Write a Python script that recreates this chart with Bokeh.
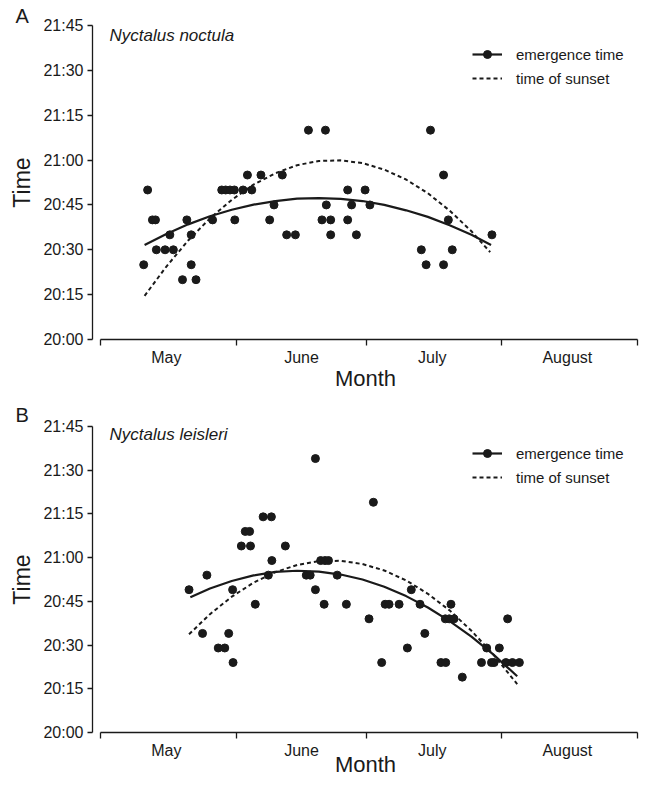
from bokeh.plotting import figure
from bokeh.models import FixedTicker, Label, Legend, LegendItem, Range1d
from bokeh.layouts import column
from bokeh.embed import file_html
from bokeh.resources import INLINE

# ---- axis definitions (days since 1 May, minutes after 20:00) ----
month_names = ["May", "June", "July", "August"]
month_label_days = [15, 46, 76, 107]
month_start_days = [0, 31, 61, 92, 123]
time_ticks = [0, 15, 30, 45, 60, 75, 90, 105]
time_labels = ["20:00", "20:15", "20:30", "20:45", "21:00", "21:15", "21:30", "21:45"]

# ---- Panel A: Nyctalus noctula ----
a_days = [9.8, 10.7, 11.8, 12.5, 12.7, 14.7, 16.6, 15.8, 18.7, 19.7, 20.7, 20.7, 21.8,
          25.6, 27.7, 28.6, 29.6, 30.6, 30.7, 32.6, 33.6, 34.6, 36.7, 38.7, 39.7, 41.6,
          42.6, 44.6, 47.6, 51.5, 75.6, 78.6, 56.6, 60.6, 51.7, 57.5, 61.7, 50.7, 52.7,
          56.6, 79.7, 52.7, 58.6, 89.7, 73.5, 80.6, 74.6, 78.6]
a_mins = [25, 50, 40, 40, 30, 30, 30, 35, 20, 40, 35, 25, 20,
          40, 50, 50, 50, 50, 40, 50, 55, 50, 55, 40, 45, 55,
          35, 35, 70, 70, 70, 55, 50, 50, 45, 45, 45, 40, 40,
          40, 40, 35, 35, 35, 30, 30, 25, 25]
a_emerg_days = [10, 15, 20, 25, 30, 35, 40, 45, 50, 55, 60, 65, 70, 75, 80, 85, 89.5]
a_emerg_fit = [31.6, 35.3, 38.5, 41.2, 43.4, 45.1, 46.3, 47.1, 47.3, 47.0, 46.3, 45.0,
               43.2, 41.0, 38.2, 35.0, 31.6]
a_sun_days = [10, 15, 20, 25, 30, 35, 40, 45, 50, 55, 60, 65, 70, 75, 80, 85, 89.3]
a_sun_fit = [14.6, 24.4, 33.1, 40.5, 46.7, 51.8, 55.6, 58.3, 59.7, 59.9, 59.0, 56.8,
             53.5, 48.9, 43.1, 36.2, 29.2]

# ---- Panel B: Nyctalus leisleri ----
b_days = [37.2, 39.1, 33.1, 34.1, 32.2, 34.3, 42.3, 39.2, 24.3, 38.4, 47.1, 48.0, 20.2,
          30.2, 49.2, 35.4, 23.3, 29.3, 26.9, 28.4, 30.3,
          49.2, 62.5, 50.4, 51.4, 52.2, 54.2, 71.2, 51.2, 56.3, 65.2, 66.1, 68.4, 73.2,
          80.3, 61.5, 79.0, 79.9, 81.0, 93.3, 74.3, 70.3, 88.5, 91.4, 64.4, 78.0, 79.1,
          87.3, 89.6, 90.2, 92.9, 94.4, 96.0, 82.9]
b_mins = [74, 74, 69, 69, 64, 64, 64, 59, 54, 54, 54, 54, 49,
          49, 49, 44, 34, 34, 29, 29, 24,
          94, 79, 59, 59, 59, 54, 49, 44, 44, 44, 44, 44, 44,
          44, 39, 39, 39, 39, 39, 34, 29, 29, 29, 24, 24, 24,
          24, 24, 24, 24, 24, 24, 19]
b_emerg_days = [20.5, 25, 30, 35, 40, 45, 50, 55, 60, 65, 70, 75, 80, 85, 90, 95.5]
b_emerg_fit = [46.4, 49.4, 52.0, 53.9, 55.1, 55.5, 55.2, 54.2, 52.5, 50.0, 46.8, 42.9,
               38.2, 32.9, 26.8, 19.3]
b_sun_days = [20.2, 25, 30, 35, 40, 45, 50, 55, 60, 65, 70, 75, 80, 85, 90, 95.5]
b_sun_fit = [33.7, 40.6, 46.6, 51.4, 55.0, 57.5, 58.8, 58.9, 57.8, 55.6, 52.2, 47.6,
             41.9, 34.9, 26.8, 16.6]

INK = "#1a1a1a"
FONT = "Liberation Sans"


def make_panel(letter, species, days, mins, e_days, e_fit, s_days, s_fit,
               height, top, frame_h, title_standoff, month_standoff,
               species_y, legend_vy):
    p = figure(width=641, height=height,
               x_range=Range1d(-1.95, 123.33), y_range=Range1d(0, 105),
               output_backend="svg", toolbar_location=None,
               min_border_left=92, min_border_right=3,
               min_border_top=top, min_border_bottom=height - top - frame_h)
    p.outline_line_color = None
    p.xgrid.visible = False
    p.ygrid.visible = False
    p.background_fill_color = "white"
    p.border_fill_color = "white"

    p.title.text = letter
    p.title.align = "left"
    p.title.offset = -77
    p.title.standoff = title_standoff
    p.title.text_font = FONT
    p.title.text_font_size = "20px"
    p.title.text_font_style = "normal"
    p.title.text_color = INK

    xa = p.xaxis[0]
    xa.ticker = FixedTicker(ticks=month_label_days, minor_ticks=month_start_days)
    xa.major_label_overrides = {d: m for d, m in zip(month_label_days, month_names)}
    xa.major_tick_line_color = None
    xa.major_tick_out = 0
    xa.major_tick_in = 0
    xa.minor_tick_out = 6
    xa.minor_tick_in = 0
    xa.minor_tick_line_color = INK
    xa.minor_tick_line_width = 1.3
    xa.bounds = (0, 123)
    xa.axis_line_color = INK
    xa.axis_line_width = 1.3
    xa.major_label_standoff = 3
    xa.major_label_text_font = FONT
    xa.major_label_text_font_size = "16px"
    xa.major_label_text_color = INK
    xa.axis_label = "Month"
    xa.axis_label_standoff = month_standoff
    xa.axis_label_text_font = FONT
    xa.axis_label_text_font_size = "22px"
    xa.axis_label_text_font_style = "normal"
    xa.axis_label_text_color = INK

    ya = p.yaxis[0]
    ya.ticker = FixedTicker(ticks=time_ticks, minor_ticks=[])
    ya.major_label_overrides = dict(zip(time_ticks, time_labels))
    ya.major_tick_out = 5
    ya.major_tick_in = 0
    ya.major_tick_line_color = INK
    ya.major_tick_line_width = 1.3
    ya.minor_tick_line_color = None
    ya.axis_line_color = INK
    ya.axis_line_width = 1.3
    ya.major_label_standoff = 4
    ya.major_label_text_font = FONT
    ya.major_label_text_font_size = "16px"
    ya.major_label_text_color = INK
    ya.axis_label = "Time"
    ya.axis_label_standoff = 5
    ya.axis_label_text_font = FONT
    ya.axis_label_text_font_size = "23px"
    ya.axis_label_text_font_style = "normal"
    ya.axis_label_text_color = INK

    r_sun = p.line(s_days, s_fit, line_width=2, line_dash="4 3", color=INK)
    r_em = p.line(e_days, e_fit, line_width=2.2, color=INK, line_join="round")
    r_pts = p.scatter(days, mins, size=8, color=INK)

    legend = Legend(items=[LegendItem(label="emergence time", renderers=[r_em, r_pts]),
                           LegendItem(label="time of sunset", renderers=[r_sun])],
                    location=(380, legend_vy))
    legend.border_line_color = None
    legend.background_fill_alpha = 0
    legend.padding = 0
    legend.margin = 0
    legend.spacing = 4
    legend.glyph_width = 30
    legend.glyph_height = 20
    legend.label_height = 20
    legend.label_standoff = 14
    legend.label_text_font = FONT
    legend.label_text_font_size = "15px"
    legend.label_text_color = INK
    p.add_layout(legend)

    p.add_layout(Label(x=1.95, y=species_y, text=species, text_font=FONT,
                       text_font_size="17px", text_font_style="italic",
                       text_color=INK, text_align="left", text_baseline="middle"))
    return p


pa = make_panel("A", "Nyctalus noctula", a_days, a_mins, a_emerg_days, a_emerg_fit,
                a_sun_days, a_sun_fit, height=398, top=25, frame_h=314,
                title_standoff=-2, month_standoff=-3, species_y=101.7, legend_vy=251)
pb = make_panel("B", "Nyctalus leisleri", b_days, b_mins, b_emerg_days, b_emerg_fit,
                b_sun_days, b_sun_fit, height=386, top=28, frame_h=306,
                title_standoff=1, month_standoff=-10, species_y=102.25, legend_vy=245)

layout = column(pa, pb, spacing=0)
open("out.html", "w").write(file_html(layout, INLINE))
